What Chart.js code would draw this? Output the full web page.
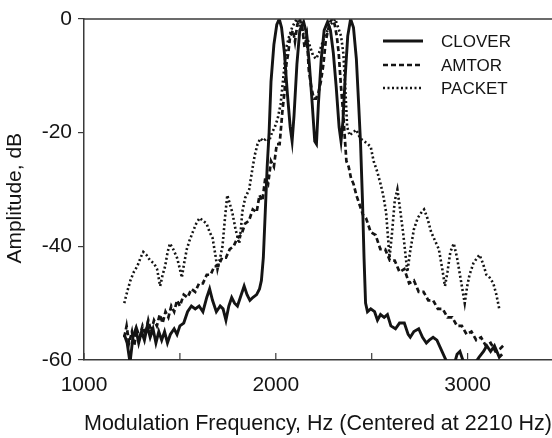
<!DOCTYPE html>
<html>
<head>
<meta charset="utf-8">
<script src="https://cdn.jsdelivr.net/npm/chart.js@4.4.1/dist/chart.umd.min.js"></script>
<style>
  html, body { margin: 0; padding: 0; background: #fff; }
  #wrap { width: 552px; height: 438px; }
</style>
</head>
<body>
<div id="wrap"><canvas id="spectrum" width="552" height="438"></canvas></div>
<script>
// values: frequency in Hz, amplitude in dB
const cloverFreq = [1210, 1225, 1240, 1255, 1270, 1285, 1300, 1315, 1330, 1345, 1360, 1375, 1390, 1405, 1420, 1435, 1450, 1470, 1485, 1500,
  1520, 1540, 1560, 1580, 1600, 1620, 1640, 1655, 1670, 1690, 1710, 1725, 1740, 1755, 1770, 1785, 1800, 1815, 1835, 1850,
  1865, 1880, 1900, 1915, 1925, 1935, 1945, 1955, 1965, 1975, 1990, 2005, 2018, 2030, 2045, 2060, 2075, 2085, 2095, 2110,
  2125, 2145, 2160, 2175, 2190, 2203, 2212, 2222, 2237, 2252, 2270, 2285, 2300, 2315, 2330, 2340, 2350, 2362, 2375, 2390,
  2405, 2420, 2432, 2442, 2452, 2460, 2468, 2478, 2495, 2515, 2530, 2546, 2565, 2582, 2600, 2624, 2645, 2670, 2690, 2701,
  2720, 2745, 2765, 2785, 2800, 2820, 2840, 2860, 2880, 2900, 2920, 2945, 2960, 2975, 2995, 3020, 3040, 3060, 3083, 3100,
  3120, 3140, 3165, 3180];
const cloverDb = [-55.5, -57, -60.5, -56, -54.5, -57, -55, -56.5, -54, -56, -54.5, -57, -55, -56.5, -55, -57, -55.5, -54.5, -55.5, -54,
  -53.5, -51.5, -50.5, -51, -50.5, -51.5, -49, -47.5, -49.5, -51.5, -50.5, -51, -53, -50.5, -49, -50, -50.5, -49, -47, -48.5,
  -49.5, -49, -48.5, -47.5, -46, -42, -34, -26, -20, -11, -4.5, -1, 0, -1.5, -6, -13, -19, -21.5, -17, -8,
  -2, -0.5, -2.5, -8, -15, -21.5, -22, -15, -7, -2, -0.5, -2, -6, -12, -19, -21.5, -18, -10, -3, 0,
  -1.5, -7, -15, -22, -32, -42, -50, -51.5, -51, -51.5, -53, -52, -52.5, -52, -54, -54.5, -53.5, -53.5, -55.5, -56,
  -55, -54.5, -56, -57, -56.5, -56, -56.5, -58, -59.5, -61, -62, -59, -58.5, -60, -61, -62, -60.5, -59.5, -58.5, -57.5,
  -58.5, -57.5, -59.5, -59];

const amtorFreq = [1210, 1222, 1235, 1250, 1262, 1275, 1290, 1305, 1320, 1335, 1350, 1365, 1380, 1395, 1410, 1425, 1440, 1455, 1470, 1485,
  1500, 1520, 1540, 1560, 1580, 1600, 1620, 1640, 1660, 1680, 1700, 1720, 1740, 1760, 1780, 1800, 1820, 1840, 1860, 1880,
  1900, 1915, 1930, 1945, 1960, 1975, 1990, 2005, 2020, 2035, 2045, 2055, 2065, 2075, 2090, 2100, 2112, 2125, 2138, 2150,
  2162, 2172, 2185, 2198, 2210, 2222, 2235, 2248, 2260, 2272, 2283, 2295, 2307, 2318, 2328, 2340, 2350, 2360, 2368, 2380,
  2392, 2405, 2420, 2440, 2455, 2470, 2495, 2520, 2545, 2570, 2595, 2620, 2645, 2670, 2695, 2720, 2745, 2770, 2795, 2820,
  2845, 2870, 2895, 2920, 2945, 2970, 2995, 3020, 3045, 3070, 3095, 3120, 3145, 3170, 3185];
const amtorDb = [-56, -54, -57, -55, -57.5, -54.5, -56, -54, -55.5, -53, -55, -53, -54, -52, -53.5, -51.5, -52.5, -50.5, -51.5, -49.5,
  -50.5, -48.5, -49, -47.5, -48, -46.5, -46.5, -45, -45, -43.5, -43.5, -42, -42, -40.5, -40, -38.5, -38, -36, -35.5, -33.5,
  -34, -31, -32, -28, -29, -25, -26, -22, -22, -16, -13, -8, -6, -3, -2, -4, -1, 0, -1.5, -5,
  -3, -9, -12, -14, -14, -13, -11, -8, -4, -2, -0.5, 0, -1, -3, -6, -12, -16, -21, -25, -26,
  -28, -29, -31, -33, -34.5, -35, -37.5, -38, -40.5, -40.5, -42.5, -42.5, -44.5, -44, -46.5, -46, -48, -48, -49.5, -49.5,
  -51, -51, -52.5, -52.5, -54, -54, -55.5, -55, -56.5, -56, -57.5, -57, -58.5, -58, -57.5];

const packetFreq = [1210, 1225, 1242, 1260, 1278, 1295, 1309, 1325, 1345, 1365, 1381, 1397, 1410, 1423, 1436, 1448, 1465, 1485, 1500, 1510,
  1522, 1536, 1550, 1567, 1585, 1603, 1620, 1639, 1655, 1670, 1685, 1696, 1710, 1722, 1735, 1747, 1760, 1773, 1790, 1809,
  1818, 1825, 1840, 1861, 1875, 1890, 1905, 1920, 1935, 1950, 1965, 1980, 1995, 2010, 2025, 2040, 2055, 2070, 2085, 2100,
  2110, 2122, 2135, 2150, 2165, 2180, 2195, 2210, 2225, 2240, 2255, 2270, 2285, 2300, 2310, 2325, 2340, 2352, 2362, 2372,
  2385, 2400, 2420, 2440, 2460, 2480, 2495, 2510, 2530, 2546, 2560, 2575, 2593, 2605, 2620, 2634, 2650, 2665, 2686, 2700,
  2720, 2740, 2760, 2773, 2790, 2810, 2830, 2850, 2868, 2882, 2895, 2910, 2928, 2945, 2960, 2975, 2985, 2998, 3010, 3030,
  3050, 3062, 3080, 3098, 3115, 3134, 3150, 3165];
const packetDb = [-50, -48, -46, -44.5, -43.5, -42, -41, -41.5, -42.5, -43, -44, -47, -45, -43.5, -41, -39.5, -40.5, -42, -44, -45.5,
  -43, -40.5, -39, -37.5, -36, -35, -35.5, -36, -37.5, -38.5, -41.5, -44, -42, -40, -35, -31, -32.5, -34, -37, -39.5,
  -37, -34, -31.5, -30, -27, -24, -22, -21, -21.5, -21, -21.5, -20, -19, -17.5, -15, -10, -5, -3, -1.5, -0.5,
  0, -1, -2, -3, -3.5, -5, -6.5, -7, -6, -4.5, -3, -2, -1, -0.5, 0, -1.5, -3, -6, -12, -19,
  -20.5, -20, -19.5, -21, -21.5, -22, -22.5, -25, -27, -29, -31, -34, -42, -38, -32, -30, -34, -38, -44.5, -41,
  -37, -35, -34, -33.5, -35, -37.5, -39, -40.5, -44, -47, -44.5, -41, -39.5, -42, -45, -48, -50, -47, -45, -43,
  -42, -41.5, -43, -45, -45.5, -46.5, -48.5, -51];

const seriesNames = ['CLOVER', 'AMTOR', 'PACKET'];
const xTickValues = [1000, 1500, 2000, 2500, 3000];
const xTickLabels = [1000, 2000, 3000];
const yTickLabels = [0, -20, -40, -60];

const ink = '#141414';
const font = "'Liberation Sans', Arial, sans-serif";

function toPoints(freq, db) {
  return freq.map((f, i) => ({ x: f, y: db[i] }));
}

// frame line on top of the plot, small inward ticks on the x axis, and the legend box
const framePlugin = {
  id: 'frame',
  afterDraw(chart) {
    const ctx = chart.ctx;
    const area = chart.chartArea;
    const xs = chart.scales.x;
    ctx.save();
    ctx.strokeStyle = '#3a3a3a';
    ctx.lineWidth = 1.5;
    ctx.beginPath();
    ctx.moveTo(area.left, area.top);
    ctx.lineTo(area.right, area.top);
    ctx.stroke();

    ctx.lineWidth = 1.2;
    xs.ticks.forEach(t => {
      const px = xs.getPixelForValue(t.value);
      ctx.beginPath();
      ctx.moveTo(px, area.bottom);
      ctx.lineTo(px, area.bottom - 7);
      ctx.stroke();
    });

    // legend
    const lineX0 = area.right - 169;
    const lineX1 = area.right - 129;
    const textX = area.right - 111;
    const rowY = [area.top + 22, area.top + 46, area.top + 69];
    ctx.font = '17px ' + font;
    ctx.fillStyle = ink;
    ctx.textBaseline = 'middle';
    chart.data.datasets.forEach((ds, i) => {
      ctx.strokeStyle = ds.borderColor;
      ctx.lineWidth = ds.borderWidth;
      ctx.setLineDash(ds.borderDash || []);
      ctx.beginPath();
      ctx.moveTo(lineX0, rowY[i]);
      ctx.lineTo(lineX1, rowY[i]);
      ctx.stroke();
      ctx.setLineDash([]);
      ctx.fillText(ds.label, textX, rowY[i] + 1);
    });
    ctx.restore();
  }
};

const ctx = document.getElementById('spectrum').getContext('2d');
const chart = new Chart(ctx, {
  type: 'line',
  data: {
    datasets: [
      {
        label: seriesNames[0],
        data: toPoints(cloverFreq, cloverDb),
        borderColor: ink,
        borderWidth: 2.9,
        pointRadius: 0,
        tension: 0,
        fill: false
      },
      {
        label: seriesNames[1],
        data: toPoints(amtorFreq, amtorDb),
        borderColor: ink,
        borderWidth: 2.7,
        borderDash: [5, 3],
        pointRadius: 0,
        tension: 0,
        fill: false
      },
      {
        label: seriesNames[2],
        data: toPoints(packetFreq, packetDb),
        borderColor: ink,
        borderWidth: 2.6,
        borderDash: [2, 2.5],
        pointRadius: 0,
        tension: 0,
        fill: false
      }
    ]
  },
  options: {
    responsive: false,
    animation: false,
    devicePixelRatio: 1,
    layout: { padding: { top: 19, right: 0, bottom: 0, left: 0 } },
    plugins: {
      legend: { display: false },
      tooltip: { enabled: false }
    },
    scales: {
      x: {
        type: 'linear',
        min: 1000,
        max: 3440,
        afterFit(scale) { scale.height = 78; },
        afterBuildTicks(scale) { scale.ticks = xTickValues.map(v => ({ value: v })); },
        ticks: {
          autoSkip: false,
          maxRotation: 0,
          padding: 13,
          color: ink,
          font: { family: font, size: 21 },
          callback: v => (xTickLabels.includes(v) ? String(v) : '')
        },
        grid: { drawOnChartArea: false, drawTicks: false },
        border: { color: '#3a3a3a', width: 1.5 },
        title: {
          display: true,
          text: 'Modulation Frequency, Hz (Centered at 2210 Hz)',
          color: ink,
          font: { family: font, size: 22 },
          padding: { top: 0, bottom: 1 }
        }
      },
      y: {
        min: -60,
        max: 0,
        afterFit(scale) { scale.width = 84; },
        ticks: {
          stepSize: 20,
          padding: 6,
          color: ink,
          font: { family: font, size: 21 },
          callback: v => (yTickLabels.includes(v) ? String(v) : '')
        },
        grid: { drawOnChartArea: false, tickLength: 6, color: '#3a3a3a', lineWidth: 1.2 },
        border: { color: '#3a3a3a', width: 1.5 },
        title: {
          display: true,
          text: 'Amplitude, dB   ',
          color: ink,
          font: { family: font, size: 21 },
          padding: { top: 3, bottom: 0 }
        }
      }
    }
  },
  plugins: [framePlugin]
});
</script>
</body>
</html>
